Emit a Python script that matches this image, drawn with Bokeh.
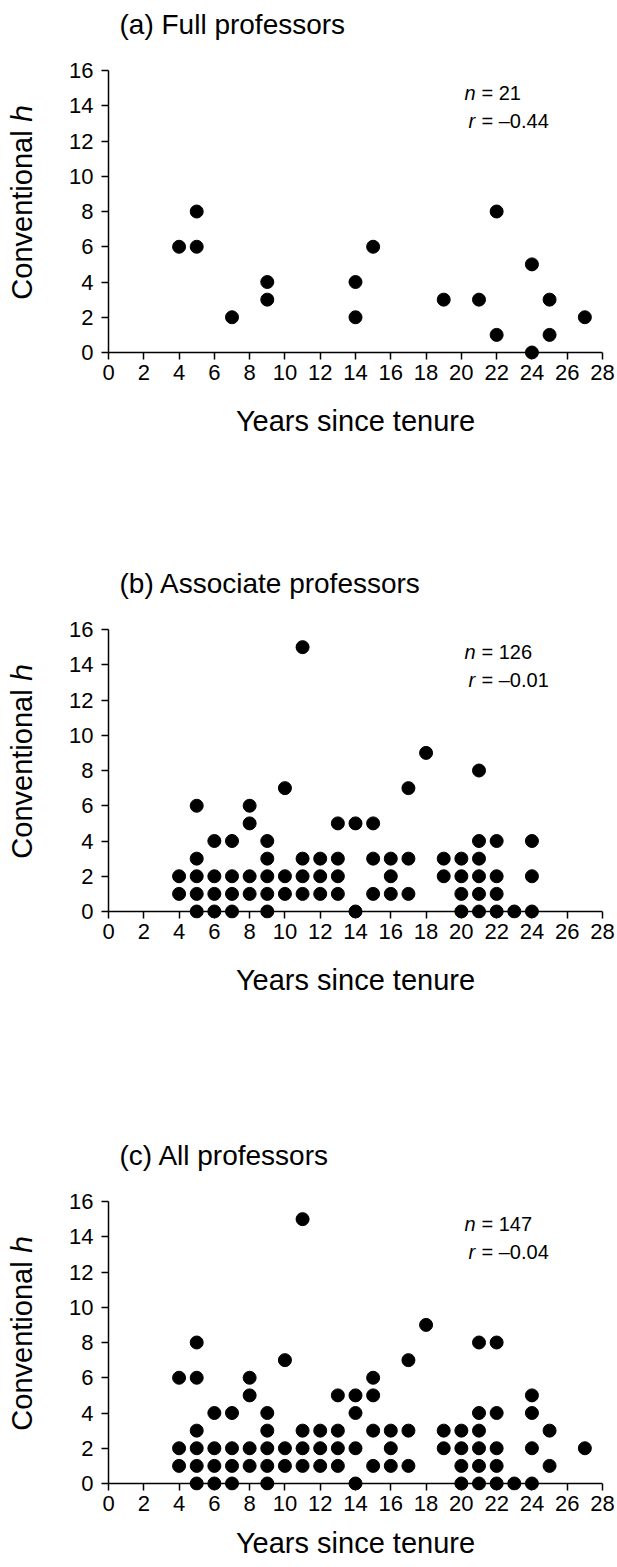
import math
from bokeh.plotting import figure
from bokeh.layouts import column
from bokeh.models import Label, Span, Title
from bokeh.embed import file_html
from bokeh.resources import INLINE

# ---------------- data ----------------
years_ticks = list(range(0, 29, 2))
h_ticks = list(range(0, 17, 2))

full_x = [4, 5, 5, 7, 9, 9, 14, 14, 15, 19, 21, 22, 22, 24, 24, 25, 25, 27]
full_y = [6, 8, 6, 2, 4, 3, 4, 2, 6, 3, 3, 8, 1, 5, 0, 3, 1, 2]

assoc_x = [4, 4,
           5, 5, 5, 5, 5,
           6, 6, 6, 6,
           7, 7, 7, 7,
           8, 8, 8, 8,
           9, 9, 9, 9, 9,
           10, 10, 10,
           11, 11, 11, 11,
           12, 12, 12,
           13, 13, 13, 13,
           14, 14,
           15, 15, 15,
           16, 16, 16,
           17, 17, 17,
           18,
           19, 19,
           20, 20, 20, 20,
           21, 21, 21, 21, 21, 21,
           22, 22, 22, 22,
           23,
           24, 24, 24]
assoc_y = [2, 1,
           6, 3, 2, 1, 0,
           4, 2, 1, 0,
           4, 2, 1, 0,
           6, 5, 2, 1,
           4, 3, 2, 1, 0,
           7, 2, 1,
           15, 3, 2, 1,
           3, 2, 1,
           5, 3, 2, 1,
           5, 0,
           5, 3, 1,
           3, 2, 1,
           7, 3, 1,
           9,
           3, 2,
           3, 2, 1, 0,
           8, 4, 3, 2, 1, 0,
           4, 2, 1, 0,
           0,
           4, 2, 0]

all_x = [4, 4, 4,
         5, 5, 5, 5, 5, 5,
         6, 6, 6, 6,
         7, 7, 7, 7,
         8, 8, 8, 8,
         9, 9, 9, 9, 9,
         10, 10, 10,
         11, 11, 11, 11,
         12, 12, 12,
         13, 13, 13, 13,
         14, 14, 14, 14,
         15, 15, 15, 15,
         16, 16, 16,
         17, 17, 17,
         18,
         19, 19,
         20, 20, 20, 20,
         21, 21, 21, 21, 21, 21,
         22, 22, 22, 22, 22,
         23,
         24, 24, 24, 24,
         25, 25,
         27]
all_y = [6, 2, 1,
         8, 6, 3, 2, 1, 0,
         4, 2, 1, 0,
         4, 2, 1, 0,
         6, 5, 2, 1,
         4, 3, 2, 1, 0,
         7, 2, 1,
         15, 3, 2, 1,
         3, 2, 1,
         5, 3, 2, 1,
         5, 4, 2, 0,
         6, 5, 3, 1,
         3, 2, 1,
         7, 3, 1,
         9,
         3, 2,
         3, 2, 1, 0,
         8, 4, 3, 2, 1, 0,
         8, 4, 2, 1, 0,
         0,
         5, 4, 2, 0,
         3, 1,
         2]

titles = ["(a) Full professors", "(b) Associate professors", "(c) All professors"]
n_values = ["21", "126", "147"]
r_values = ["\u20130.44", "\u20130.01", "\u20130.04"]
x_label = "Years since tenure"
y_label = "Conventional \u210e"

# ---------------- styling ----------------
FONT = "Liberation Sans"
FRAME_W = 494
PLOT_H = 282          # pixels for h = 0..16
TICK = 7              # pixels below h = 0 (x ticks)
HEAD = 26             # pixels above h = 16 inside the frame
FRAME_H = PLOT_H + TICK + HEAD
UNIT = PLOT_H / 16.0
LEFT, RIGHT = 108, 15


def panel(xs, ys, title, n, r, top, bottom, xlab_standoff):
    p = figure(frame_width=FRAME_W, frame_height=FRAME_H,
               x_range=(0, 28), y_range=(-TICK / UNIT, 16 + HEAD / UNIT),
               output_backend="svg", toolbar_location=None, title=None,
               min_border_left=LEFT, min_border_right=RIGHT,
               min_border_top=top, min_border_bottom=bottom)
    p.outline_line_color = None
    p.grid.visible = False
    p.background_fill_color = "white"
    p.border_fill_color = "white"

    p.add_layout(Title(text=title, align="left", offset=11, standoff=10,
                       text_font=FONT, text_font_size="28px",
                       text_font_style="normal", text_color="black"), "above")

    xa = p.xaxis[0]
    xa.ticker = years_ticks
    xa.axis_line_color = None
    xa.major_tick_in = TICK
    xa.major_tick_out = 0
    xa.major_tick_line_color = "black"
    xa.major_tick_line_width = 1.5
    xa.minor_tick_line_color = None
    xa.major_label_text_font = FONT
    xa.major_label_text_font_size = "22px"
    xa.major_label_text_color = "black"
    xa.major_label_standoff = 5
    xa.axis_label = x_label
    xa.axis_label_text_font = FONT
    xa.axis_label_text_font_size = "29px"
    xa.axis_label_text_font_style = "normal"
    xa.axis_label_text_color = "black"
    xa.axis_label_standoff = xlab_standoff

    ya = p.yaxis[0]
    ya.ticker = h_ticks
    ya.bounds = (0, 16)
    ya.axis_line_color = "black"
    ya.axis_line_width = 1.5
    ya.major_tick_in = 0
    ya.major_tick_out = TICK
    ya.major_tick_line_color = "black"
    ya.major_tick_line_width = 1.5
    ya.minor_tick_line_color = None
    ya.major_label_text_font = FONT
    ya.major_label_text_font_size = "22px"
    ya.major_label_text_color = "black"
    ya.major_label_standoff = 8
    ya.axis_label = y_label
    ya.axis_label_text_font = FONT
    ya.axis_label_text_font_size = "29px"
    ya.axis_label_text_font_style = "normal"
    ya.axis_label_text_color = "black"
    ya.axis_label_standoff = 28

    # x-axis line at h = 0
    p.add_layout(Span(location=0, dimension="width", line_color="black", line_width=1.5))

    p.scatter(xs, ys, size=13, color="black")

    # n and r annotations (inside the plot area)
    common = dict(x_units="screen", y_units="screen", text_font=FONT,
                  text_font_size="20px", text_align="left",
                  text_baseline="middle", text_color="black")
    y_n = TICK + PLOT_H - 22
    y_r = TICK + PLOT_H - 50
    p.add_layout(Label(x=356, y=y_n, text="n", text_font_style="italic", **common))
    p.add_layout(Label(x=373, y=y_n, text="= " + n, **common))
    p.add_layout(Label(x=360, y=y_r, text="r", text_font_style="italic", **common))
    p.add_layout(Label(x=373, y=y_r, text="= " + r, **common))
    return p


pa = panel(full_x, full_y, titles[0], n_values[0], r_values[0], 44, 181, 22)
pb = panel(assoc_x, assoc_y, titles[1], n_values[1], r_values[1], 63, 202, 22)
pc = panel(all_x, all_y, titles[2], n_values[2], r_values[2], 55, 77, 13)

layout = column(pa, pb, pc, spacing=0)
open("out.html", "w").write(file_html(layout, INLINE))
